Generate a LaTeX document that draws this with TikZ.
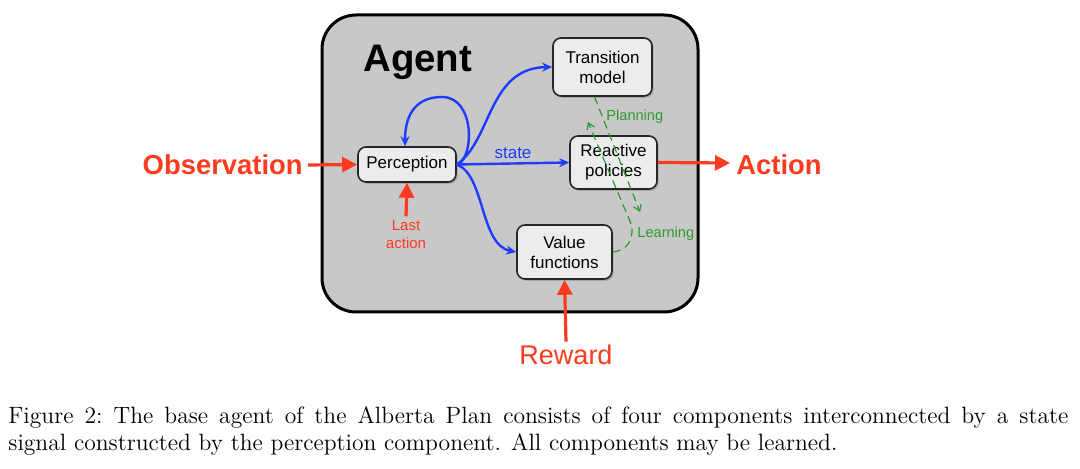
\documentclass[tikz,border=0pt]{standalone}
\usepackage{fontspec}
\setsansfont{Liberation Sans}
\usetikzlibrary{arrows.meta,shadows,calc}
\definecolor{agentgray}{HTML}{C8C8C8}
\definecolor{boxgray}{HTML}{ECECEC}
\definecolor{ared}{HTML}{FF3A1E}
\definecolor{ablue}{HTML}{1E3CFF}
\definecolor{agreen}{HTML}{2E9A2E}
\begin{document}
\begin{tikzpicture}[x=0.5pt,y=-0.5pt,
  comp/.style={draw=black!85,line width=0.8pt,fill=boxgray,rounded corners=4pt,
    drop shadow={opacity=0.45,shadow xshift=0.8pt,shadow yshift=-0.9pt},
    align=center,font=\sffamily\fontsize{8.5}{10}\selectfont,inner sep=1pt},
  redarrow/.style={draw=ared,line width=1.6pt,-{Triangle[length=7.5pt,width=7.5pt]}},
  bluearrow/.style={draw=ablue,line width=1.2pt,-{Stealth[length=5pt,width=4.5pt]}},
  greenarrow/.style={draw=agreen,line width=0.6pt,dash pattern=on 4pt off 2.5pt,-{Straight Barb[length=3pt,width=4pt]}},
  bigred/.style={text=ared,font=\sffamily\bfseries\fontsize{13.7}{16}\selectfont},
  smallred/.style={text=ared,font=\sffamily\fontsize{7.5}{9}\selectfont,align=center},
  greenlabel/.style={text=agreen,font=\sffamily\fontsize{7.3}{9}\selectfont,inner sep=0pt}]
\useasboundingbox (0,0) rectangle (1080,469);
\fill[white] (0,0) rectangle (1080,469);
% agent box
\draw[fill=agentgray,line width=1.5pt,rounded corners=17pt] (322,15) rectangle (698,312);
\node[font=\sffamily\bfseries\fontsize{19.2}{22}\selectfont,anchor=west,inner sep=0pt] (agent) at (363,62) {Agent};
% components
\node[comp,minimum width=49.5pt,minimum height=29pt] (T) at (602.5,67) {Transition\\model};
\node[comp,minimum width=49pt,minimum height=17.5pt] (P) at (407,164.5) {Perception};
\node[comp,minimum width=43.5pt,minimum height=26.5pt] (R) at (613.5,162.5) {Reactive\\policies};
\node[comp,minimum width=47.5pt,minimum height=27pt] (V) at (564.5,252) {Value\\functions};
% outside labels
\node[bigred,anchor=east,inner sep=0pt] (obs) at (303,165) {Observation};
\node[bigred,anchor=west,inner sep=0pt] (act) at (736,165) {Action};
\node[text=ared,font=\sffamily\fontsize{13.5}{16}\selectfont,inner sep=0pt] (rew) at (566,355) {Reward};
\node[smallred,inner sep=0pt] (last) at (406,234) {Last\\action};
% red arrows
\draw[redarrow] (obs.east) ++(5,0) coordinate (obsend) -- (P.west);
\coordinate (actend) at (730,163);
\draw[redarrow] (R.east) -- (actend);
\draw[redarrow] (last.north) ++(0,-3) coordinate (lastend) -- (P.south);
\draw[redarrow] (rew.north) ++(0,-3) coordinate (rewend) -- (V.south);
% blue arrows
\draw[bluearrow] (P.east) .. controls (474,160) and (476,97) .. (442,97)
   .. controls (418,97) and (405,112) .. ([xshift=-1pt]P.north);
\draw[bluearrow] (P.east) .. controls (492,140) and (488,68) .. (T.west);
\draw[bluearrow] (P.east) -- node[pos=0.5,above,text=ablue,font=\sffamily\fontsize{8.5}{10}\selectfont,inner sep=2pt] (st) {state} (R.west);
\draw[bluearrow] (P.east) .. controls (485,175) and (480,245) .. (V.west);
% green arrows
\coordinate (pend) at (640,212);
\draw[greenarrow] ([xshift=-4pt]T.south) -- (pend);
\coordinate (lend) at (588,122);
\draw[greenarrow] (V.east) .. controls (628,250) and (633,240) .. (632,226) -- (lend);
\node[greenlabel,anchor=west] (plan) at (606,117) {Planning};
\node[greenlabel,anchor=west] (learn) at (637,234) {Learning};
% caption
\node[anchor=base west,inner sep=0pt] (cap1) at (8,423) {\fontsize{11.8}{14}\selectfont\frenchspacing\hbox to 530pt{Figure 2: The base agent of the Alberta Plan consists of four components interconnected by a state}};
\node[anchor=base west,inner sep=0pt] (cap2) at (8,451) {\fontsize{11.8}{14}\selectfont signal constructed by the perception component. All components may be learned.};
\end{tikzpicture}
\end{document}
